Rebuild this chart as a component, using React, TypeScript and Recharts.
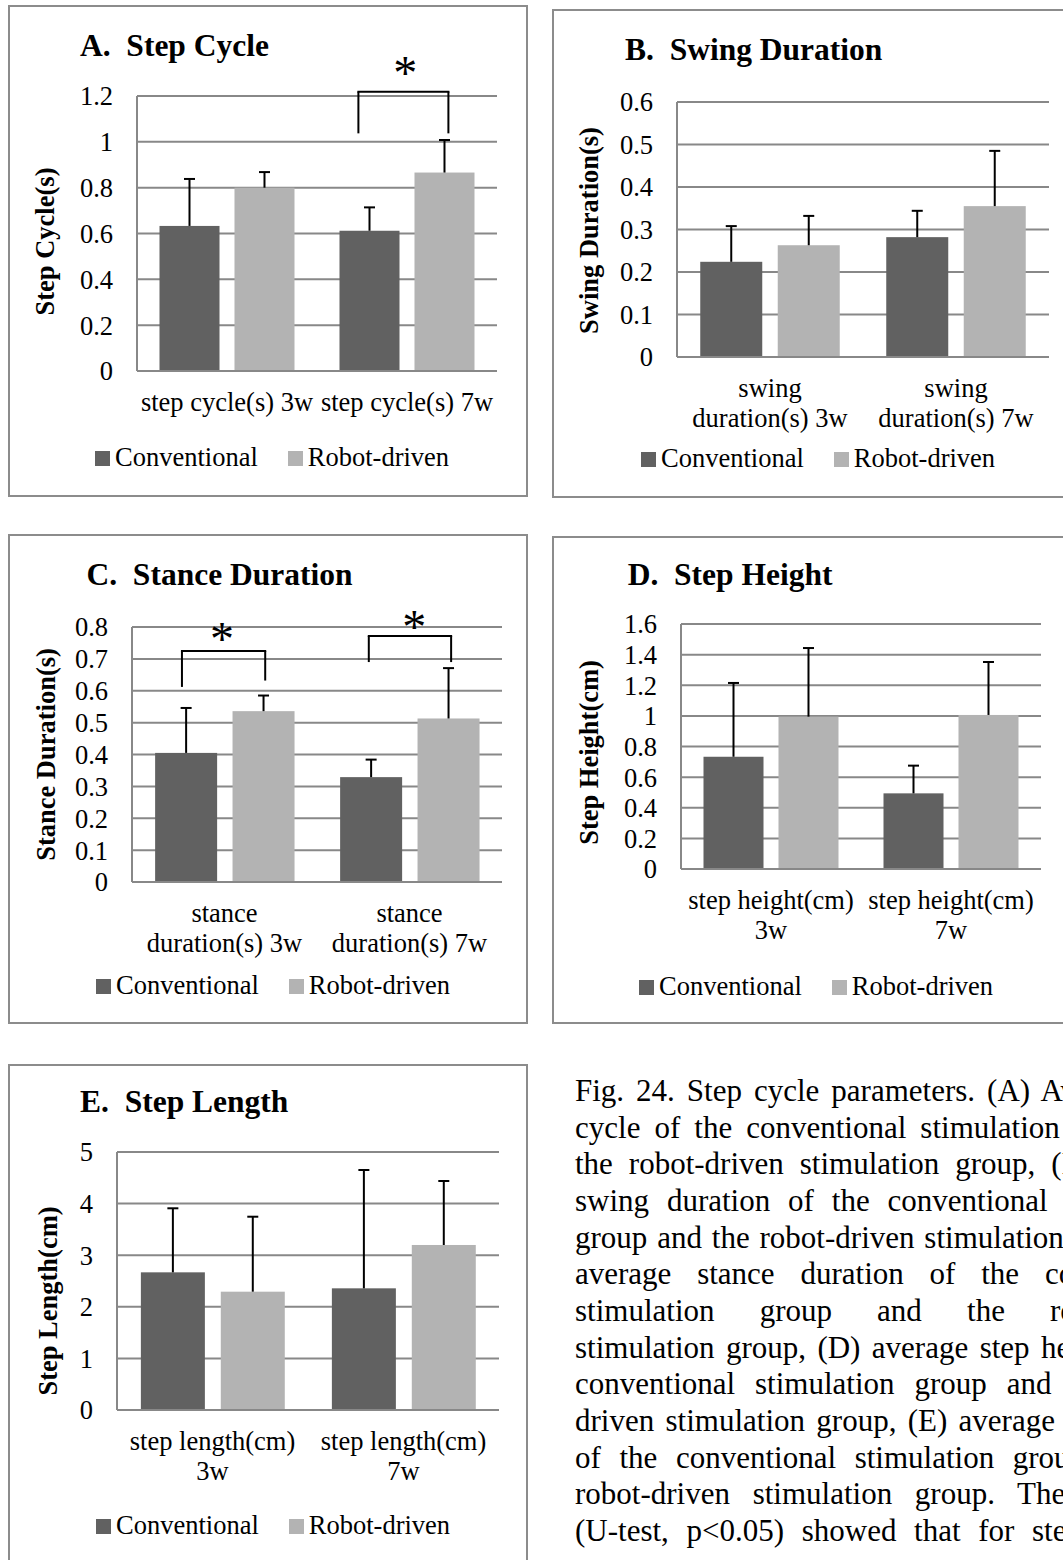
import {
  BarChart,
  Bar,
  XAxis,
  YAxis,
  CartesianGrid,
  Legend,
  ReferenceLine,
  ReferenceDot
} from 'recharts'

const FONT = "'Liberation Serif', 'Times New Roman', Times, serif"
const TEXT_SIZE = 26.5
const TITLE_SIZE = 31.5
const CONV_COLOR = '#616161'
const ROBOT_COLOR = '#b3b3b3'
const LINE_COLOR = '#888888'
const FRAME_COLOR = '#8c8c8c'

const seriesNames = ['Conventional', 'Robot-driven']

// A. Step cycle (s)
const cycleLabels = ['step cycle(s) 3w', 'step cycle(s) 7w']
const cycleConv = [0.633, 0.612]
const cycleConvSd = [0.205, 0.102]
const cycleRobot = [0.8, 0.866]
const cycleRobotSd = [0.068, 0.142]
const cycleTicks = [0, 0.2, 0.4, 0.6, 0.8, 1, 1.2]

// B. Swing duration (s)
const swingLabels = ['swing\nduration(s) 3w', 'swing\nduration(s) 7w']
const swingConv = [0.224, 0.282]
const swingConvSd = [0.084, 0.062]
const swingRobot = [0.263, 0.355]
const swingRobotSd = [0.069, 0.13]
const swingTicks = [0, 0.1, 0.2, 0.3, 0.4, 0.5, 0.6]

// C. Stance duration (s)
const stanceLabels = ['stance\nduration(s) 3w', 'stance\nduration(s) 7w']
const stanceConv = [0.405, 0.329]
const stanceConvSd = [0.141, 0.055]
const stanceRobot = [0.536, 0.513]
const stanceRobotSd = [0.049, 0.158]
const stanceTicks = [0, 0.1, 0.2, 0.3, 0.4, 0.5, 0.6, 0.7, 0.8]

// D. Step height (cm)
const heightLabels = ['step height(cm)\n3w', 'step height(cm)\n7w']
const heightConv = [0.733, 0.494]
const heightConvSd = [0.482, 0.181]
const heightRobot = [0.995, 1.006]
const heightRobotSd = [0.448, 0.346]
const heightTicks = [0, 0.2, 0.4, 0.6, 0.8, 1, 1.2, 1.4, 1.6]

// E. Step length (cm)
const lengthLabels = ['step length(cm)\n3w', 'step length(cm)\n7w']
const lengthConv = [2.668, 2.358]
const lengthConvSd = [1.241, 2.293]
const lengthRobot = [2.293, 3.198]
const lengthRobotSd = [1.453, 1.24]
const lengthTicks = [0, 1, 2, 3, 4, 5]

// Significance brackets: x in group units (0..2 across the plot), y in data units
interface Bracket {
  from: number
  to: number
  top: number
  fromEnd: number
  toEnd: number
  starX: number
  starY: number
}
const cycleBrackets: Bracket[] = [
  { from: 1.23, to: 1.73, top: 1.219, fromEnd: 1.037, toEnd: 1.037, starX: 1.49, starY: 1.33 }
]
const stanceBrackets: Bracket[] = [
  { from: 0.27, to: 0.72, top: 0.725, fromEnd: 0.612, toEnd: 0.632, starX: 0.487, starY: 0.782 },
  { from: 1.28, to: 1.725, top: 0.772, fromEnd: 0.69, toEnd: 0.69, starX: 1.526, starY: 0.821 }
]

const captionLines = [
  'Fig. 24. Step cycle parameters. (A) Average step',
  'cycle of the conventional stimulation group and',
  'the robot-driven stimulation group, (B) average',
  'swing duration of the conventional stimulation',
  'group and the robot-driven stimulation group, (C)',
  'average stance duration of the conventional',
  'stimulation group and the robot-driven',
  'stimulation group, (D) average step height of the',
  'conventional stimulation group and the robot-',
  'driven stimulation group, (E) average step length',
  'of the conventional stimulation group and the',
  'robot-driven stimulation group. The statistical',
  '(U-test, p<0.05) showed that for step cycle at',
  'the 7^th week and for stance duration at both'
]

interface Box {
  x: number
  y: number
  w: number
  h: number
}

interface PanelProps {
  title: string
  yTitle: string
  labels: string[]
  conv: number[]
  convSd: number[]
  robot: number[]
  robotSd: number[]
  ticks: number[]
  brackets?: Bracket[]
  frame: Box
  plot: Box
  titleAt: { x: number; baseline: number }
  yTitleX: number
  yTitleDy: number
  legendAt: { x: number; baseline: number }
}

// Bar with an upward-only error whisker, scaled from the bar's own pixel height
const barWithError = (valueKey: string, sdKey: string) => (props: any) => {
  const { x, y, width, height, fill, payload } = props
  const value = payload[valueKey]
  const pxPerUnit = value ? height / value : 0
  const errTop = y - payload[sdKey] * pxPerUnit
  const cx = x + width / 2
  return (
    <g>
      <rect x={x} y={y} width={width} height={height} fill={fill} />
      <line x1={cx} y1={y} x2={cx} y2={errTop} stroke="#000" strokeWidth={2} />
      <line x1={cx - 5.5} y1={errTop} x2={cx + 5.5} y2={errTop} stroke="#000" strokeWidth={2} />
    </g>
  )
}

const CategoryTick = (props: any) => {
  const { x, y, payload } = props
  const lines = String(payload.value).split('\n')
  return (
    <text x={x} y={y} textAnchor="middle" fontFamily={FONT} fontSize={TEXT_SIZE} fill="#000">
      {lines.map((line, i) => (
        <tspan key={i} x={x} dy={i === 0 ? 40 : 30}>
          {line}
        </tspan>
      ))}
    </text>
  )
}

const AxisTitle = (props: any) => {
  const { viewBox, text, cx, dy } = props
  const cy = viewBox.y + viewBox.height / 2 + dy
  return (
    <text
      x={cx}
      y={cy}
      transform={`rotate(-90 ${cx} ${cy})`}
      textAnchor="middle"
      dominantBaseline="central"
      fontFamily={FONT}
      fontSize={TEXT_SIZE}
      fontWeight="bold"
      fill="#000"
    >
      {text}
    </text>
  )
}

const Star = (props: any) => {
  const { viewBox } = props
  const cx = viewBox.x + (viewBox.width || 0) / 2
  const cy = viewBox.y + (viewBox.height || 0) / 2
  return (
    <text x={cx} y={cy} dy="0.47em" textAnchor="middle" fontFamily={FONT} fontSize={48} fill="#000">
      *
    </text>
  )
}

const legendContent = (props: any) => (
  <div style={{ display: 'flex', alignItems: 'baseline', fontFamily: FONT, fontSize: TEXT_SIZE, lineHeight: 1, color: '#000' }}>
    {(props.payload || []).map((entry: any, i: number) => (
      <div key={i} style={{ display: 'flex', alignItems: 'baseline', marginRight: 30 }}>
        <span style={{ display: 'inline-block', width: 15, height: 15, background: entry.color, marginRight: 5 }} />
        <span>{entry.value}</span>
      </div>
    ))}
  </div>
)

function Panel(props: PanelProps) {
  const { frame, plot } = props
  // slot = centre of each group on the hidden 0..2 position axis
  const data = props.labels.map((label, i) => ({
    label,
    slot: i + 0.5,
    conv: props.conv[i],
    convSd: props.convSd[i],
    robot: props.robot[i],
    robotSd: props.robotSd[i]
  }))
  const marginTop = plot.y - frame.y
  const axisWidth = plot.x - frame.x
  const xAxisHeight = frame.h - marginTop - plot.h
  const chartWidth = plot.x + plot.w - frame.x + 20
  const yMax = props.ticks[props.ticks.length - 1]
  const lineProps = { stroke: '#000', strokeWidth: 2, ifOverflow: 'visible' as const, xAxisId: 'pos' }

  return (
    <>
      <div
        style={{
          position: 'absolute',
          left: frame.x,
          top: frame.y,
          width: frame.w,
          height: frame.h,
          border: `2px solid ${FRAME_COLOR}`,
          boxSizing: 'border-box'
        }}
      />
      <div
        style={{
          position: 'absolute',
          left: props.titleAt.x,
          top: props.titleAt.baseline - 0.8375 * TITLE_SIZE,
          fontFamily: FONT,
          fontSize: TITLE_SIZE,
          fontWeight: 'bold',
          lineHeight: 1,
          whiteSpace: 'pre',
          color: '#000'
        }}
      >
        {props.title}
      </div>
      <div style={{ position: 'absolute', left: frame.x, top: frame.y }}>
        <BarChart
          width={chartWidth}
          height={frame.h}
          data={data}
          margin={{ top: marginTop, right: 20, bottom: 0, left: 0 }}
          barCategoryGap="12.5%"
          barGap="8.33%"
          style={{ overflow: 'visible' }}
        >
          <CartesianGrid vertical={false} stroke={LINE_COLOR} strokeWidth={2} />
          <XAxis
            dataKey="label"
            height={xAxisHeight}
            interval={0}
            tickLine={false}
            tickSize={0}
            tickMargin={0}
            axisLine={{ stroke: LINE_COLOR, strokeWidth: 2 }}
            tick={<CategoryTick />}
          />
          <XAxis xAxisId="pos" dataKey="slot" type="number" domain={[0, 2]} allowDataOverflow hide />
          <YAxis
            width={axisWidth}
            domain={[0, yMax]}
            ticks={props.ticks}
            interval={0}
            tickLine={false}
            tickSize={0}
            tickMargin={24}
            tickFormatter={(v: number) => String(v)}
            axisLine={{ stroke: LINE_COLOR, strokeWidth: 2 }}
            tick={{ fontFamily: FONT, fontSize: TEXT_SIZE, fill: '#000' }}
            label={<AxisTitle text={props.yTitle} cx={props.yTitleX - frame.x} dy={props.yTitleDy} />}
          />
          <Legend
            verticalAlign="middle"
            align="center"
            content={legendContent}
            wrapperStyle={{
              left: props.legendAt.x - frame.x,
              top: props.legendAt.baseline - frame.y - 0.8375 * TEXT_SIZE,
              width: 'auto',
              height: 'auto'
            }}
          />
          <Bar
            dataKey="conv"
            name={seriesNames[0]}
            fill={CONV_COLOR}
            shape={barWithError('conv', 'convSd')}
            isAnimationActive={false}
          />
          <Bar
            dataKey="robot"
            name={seriesNames[1]}
            fill={ROBOT_COLOR}
            shape={barWithError('robot', 'robotSd')}
            isAnimationActive={false}
          />
          {(props.brackets || []).map((b, i) => [
            <ReferenceLine
              key={`l${i}`}
              {...lineProps}
              segment={[{ x: b.from, y: b.fromEnd }, { x: b.from, y: b.top }]}
            />,
            <ReferenceLine
              key={`t${i}`}
              {...lineProps}
              strokeLinecap="square"
              segment={[{ x: b.from, y: b.top }, { x: b.to, y: b.top }]}
            />,
            <ReferenceLine
              key={`r${i}`}
              {...lineProps}
              segment={[{ x: b.to, y: b.top }, { x: b.to, y: b.toEnd }]}
            />,
            <ReferenceDot
              key={`s${i}`}
              xAxisId="pos"
              x={b.starX}
              y={b.starY}
              r={0}
              fill="none"
              stroke="none"
              ifOverflow="visible"
              label={<Star />}
            />
          ])}
        </BarChart>
      </div>
    </>
  )
}

function CaptionLine({ text }: { text: string }) {
  const parts = text.split(/\^(\w+)/)
  return (
    <div style={{ textAlign: 'justify', textAlignLast: 'justify', height: 36.7 }}>
      {parts.map((p, i) => (i % 2 === 1 ? <sup key={i} style={{ fontSize: '0.6em' }}>{p}</sup> : p))}
    </div>
  )
}

export default function App() {
  return (
    <div
      style={{
        position: 'absolute',
        left: 0,
        top: 0,
        width: 1063,
        height: 1560,
        overflow: 'hidden',
        background: '#fff'
      }}
    >
      <Panel
        title="A.  Step Cycle"
        yTitle="Step Cycle(s)"
        labels={cycleLabels}
        conv={cycleConv}
        convSd={cycleConvSd}
        robot={cycleRobot}
        robotSd={cycleRobotSd}
        ticks={cycleTicks}
        brackets={cycleBrackets}
        frame={{ x: 8, y: 5, w: 520, h: 492 }}
        plot={{ x: 137, y: 96, w: 360, h: 275 }}
        titleAt={{ x: 80, baseline: 56 }}
        yTitleX={44.5}
        yTitleDy={8}
        legendAt={{ x: 95, baseline: 466 }}
      />
      <Panel
        title="B.  Swing Duration"
        yTitle="Swing Duration(s)"
        labels={swingLabels}
        conv={swingConv}
        convSd={swingConvSd}
        robot={swingRobot}
        robotSd={swingRobotSd}
        ticks={swingTicks}
        frame={{ x: 552, y: 9, w: 600, h: 489 }}
        plot={{ x: 677, y: 102, w: 372, h: 255 }}
        titleAt={{ x: 625, baseline: 60 }}
        yTitleX={588.5}
        yTitleDy={1}
        legendAt={{ x: 641, baseline: 467 }}
      />
      <Panel
        title="C.  Stance Duration"
        yTitle="Stance Duration(s)"
        labels={stanceLabels}
        conv={stanceConv}
        convSd={stanceConvSd}
        robot={stanceRobot}
        robotSd={stanceRobotSd}
        ticks={stanceTicks}
        brackets={stanceBrackets}
        frame={{ x: 8, y: 534, w: 520, h: 490 }}
        plot={{ x: 132, y: 627, w: 370, h: 255 }}
        titleAt={{ x: 86.5, baseline: 585 }}
        yTitleX={46}
        yTitleDy={0}
        legendAt={{ x: 96, baseline: 994 }}
      />
      <Panel
        title="D.  Step Height"
        yTitle="Step Height(cm)"
        labels={heightLabels}
        conv={heightConv}
        convSd={heightConvSd}
        robot={heightRobot}
        robotSd={heightRobotSd}
        ticks={heightTicks}
        frame={{ x: 552, y: 536, w: 600, h: 488 }}
        plot={{ x: 681, y: 624, w: 360, h: 245 }}
        titleAt={{ x: 627.7, baseline: 585 }}
        yTitleX={588.5}
        yTitleDy={6}
        legendAt={{ x: 639, baseline: 995 }}
      />
      <Panel
        title="E.  Step Length"
        yTitle="Step Length(cm)"
        labels={lengthLabels}
        conv={lengthConv}
        convSd={lengthConvSd}
        robot={lengthRobot}
        robotSd={lengthRobotSd}
        ticks={lengthTicks}
        frame={{ x: 8, y: 1064, w: 520, h: 600 }}
        plot={{ x: 117, y: 1152, w: 382, h: 258 }}
        titleAt={{ x: 80, baseline: 1112 }}
        yTitleX={47.6}
        yTitleDy={20}
        legendAt={{ x: 96, baseline: 1534 }}
      />
      <div
        style={{
          position: 'absolute',
          left: 575,
          top: 1072.9,
          width: 630,
          fontFamily: FONT,
          fontSize: 31,
          lineHeight: '36.7px',
          color: '#000'
        }}
      >
        {captionLines.map((line, i) => (
          <CaptionLine key={i} text={line} />
        ))}
      </div>
    </div>
  )
}
